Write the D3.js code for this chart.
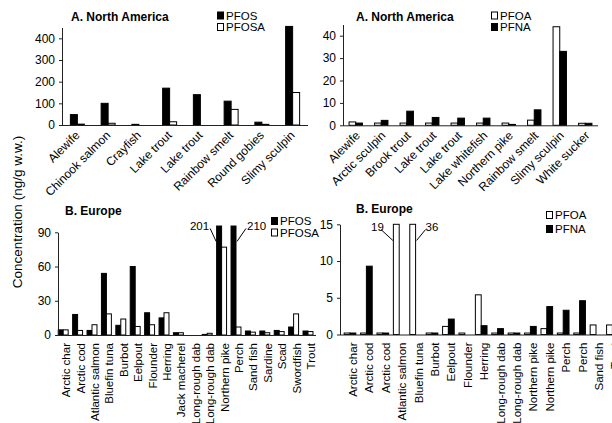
<!DOCTYPE html>
<html>
<head>
<meta charset="utf-8">
<script src="https://cdn.jsdelivr.net/npm/d3@7/dist/d3.min.js"></script>
<style>
  html, body { margin: 0; padding: 0; background: #fff; }
  svg { display: block; font-family: "Liberation Sans", Arial, Helvetica, sans-serif; }
</style>
</head>
<body>
<svg id="chart" width="612" height="423"></svg>
<script>
// ---------- DATA ----------
const naCatsA = ["Alewife","Chinook salmon","Crayfish","Lake trout","Lake trout","Rainbow smelt","Round gobies","Slimy sculpin"];
const naPFOS  = [48, 100, 3, 170, 140, 110, 13, 455];
const naPFOSA = [4, 8, 0, 15, 0, 72, 3, 150];
const naTicksA = [0, 100, 200, 300, 400];

const naCatsB = ["Alewife","Arctic sculpin","Brook trout","Lake trout","Lake trout","Lake whitefish","Northern pike","Rainbow smelt","Slimy sculpin","White sucker"];
const naPFOA = [1.5, 1.0, 1.0, 1.0, 1.0, 1.0, 1.0, 2.3, 44, 0.9];
const naPFNA = [1.0, 2.2, 6.3, 3.5, 3.2, 3.2, 0.4, 6.9, 33, 0.9];
const naTicksB = [0, 10, 20, 30, 40];

const euCatsA = ["Arctic char","Arctic cod","Atlantic salmon","Bluefin tuna","Burbot","Eelpout","Flounder","Herring","Jack macherel","Long-rough dab","Long-rough dab","Northern pike","Perch","Sand fish","Sardine","Scad","Swordfish","Trout"];
const euPFOS  = [4.5, 18, 4, 54, 8.5, 60, 19.5, 15, 2, 0, 0.5, 201, 210, 3.5, 3.5, 4, 7, 3.5];
const euPFOSA = [4.5, 4, 9, 18.5, 14, 7.5, 9, 19.5, 2, 0, 1.5, 77, 7, 2.5, 2, 3, 18.5, 3];
const euTicksA = [0, 30, 60, 90];

const euCatsB = ["Arctic char","Arctic cod","Arctic cod","Atlantic salmon","Bluefin tuna","Burbot","Eelpout","Flounder","Herring","Long-rough dab","Long-rough dab","Northern pike","Northern pike","Perch","Perch","Sand fish","Trout"];
const euPFOA = [0.2, 0.2, 0.2, 19, 36, 0.2, 1.1, 0.2, 5.4, 0.2, 0.2, 0.2, 0.8, 0.2, 0.2, 1.3, 1.3];
const euPFNA = [0.2, 9.3, 0.2, 0, 0, 0.2, 2.1, 0, 1.2, 0.8, 0.2, 1.1, 3.8, 3.3, 4.6, 0, 0];
const euTicksB = [0, 5, 10, 15];

const yTitle = "Concentration (ng/g w.w.)";

// ---------- DRAWING ----------
const svg = d3.select("#chart");

function panel(cfg) {
  const g = svg.append("g");
  const idx = cfg.cats.map((_, i) => i);
  const x = d3.scaleBand().domain(idx).range([cfg.x0, cfg.x1]).padding(0);
  const pairW = x.bandwidth() * cfg.frac;
  const xs = d3.scaleBand().domain(cfg.series.map(s => s.name)).range([0, pairW]);
  const y = d3.scaleLinear().domain(cfg.ydom).range([cfg.yBase, cfg.yTop]);
  const cap = cfg.cap != null ? cfg.cap : Infinity;

  // bars
  cfg.series.forEach(s => {
    g.append("g").selectAll("rect")
      .data(s.values.map((v, i) => ({ v, i })).filter(d => d.v > 0))
      .join("rect")
      .attr("x", d => x(d.i) + (x.bandwidth() - pairW) / 2 + xs(s.name))
      .attr("width", xs.bandwidth())
      .attr("y", d => y(Math.min(d.v, cap)))
      .attr("height", d => y(0) - y(Math.min(d.v, cap)))
      .attr("fill", s.fill)
      .attr("stroke", "#000")
      .attr("stroke-width", 1);
  });

  // y axis
  const ya = d3.axisLeft(y).tickValues(cfg.ticks).tickSize(3).tickPadding(4).tickSizeOuter(0);
  const yg = g.append("g").attr("transform", `translate(${cfg.yAxisX},0)`).call(ya);
  yg.selectAll("text").attr("font-size", 12).attr("fill", "#000").attr("font-family", null);
  yg.selectAll("line,path").attr("stroke", "#222");

  // x axis line
  g.append("line")
    .attr("x1", cfg.yAxisX).attr("x2", cfg.xAxisEnd)
    .attr("y1", y(0) + 0.5).attr("y2", y(0) + 0.5)
    .attr("stroke", "#222").attr("stroke-width", 1);

  // category labels
  const labs = g.append("g").selectAll("text").data(cfg.cats).join("text")
    .attr("text-anchor", "end")
    .attr("font-size", cfg.labelSize)
    .attr("fill", "#000")
    .text(d => d);
  if (cfg.rot === -45) {
    labs.attr("transform", (d, i) => `translate(${x(i) + x.bandwidth() / 2 + cfg.labDx},${y(0) + cfg.labDy}) rotate(-45)`)
      .attr("dy", "0.35em");
  } else {
    labs.attr("transform", (d, i) => `translate(${x(i) + x.bandwidth() / 2 + cfg.labDx},${y(0) + cfg.labDy}) rotate(-90)`)
      .attr("dy", "0.35em");
  }

  // title
  g.append("text").attr("x", cfg.titleX).attr("y", cfg.titleY)
    .attr("font-size", 12).attr("font-weight", "bold").attr("fill", "#000")
    .text(cfg.title);

  // legend
  cfg.legendOrder.forEach((s, k) => {
    const ly = cfg.legY + k * cfg.legStep;
    g.append("rect").attr("x", cfg.legX + 0.5).attr("y", ly - 7.5)
      .attr("width", 6).attr("height", 7)
      .attr("fill", s.fill).attr("stroke", "#000").attr("stroke-width", 1);
    g.append("text").attr("x", cfg.legX + 9).attr("y", ly)
      .attr("font-size", 11.5).attr("fill", "#000").text(s.name);
  });

  // annotations for clipped bars
  (cfg.notes || []).forEach(n => {
    const s = cfg.series[n.series];
    const bx = x(n.i) + (x.bandwidth() - pairW) / 2 + xs(s.name);
    const edge = n.side === "left" ? bx - 0.5 : bx + xs.bandwidth() + 1;
    const ey = y(n.atValue);
    const sx = edge + (n.side === "left" ? -n.dx : n.dx);
    const sy = ey - n.dy;
    g.append("line").attr("x1", sx).attr("y1", sy).attr("x2", edge).attr("y2", ey)
      .attr("stroke", "#000").attr("stroke-width", 1);
    g.append("text")
      .attr("x", n.side === "left" ? sx + n.tx : sx - n.tx)
      .attr("y", sy + 2)
      .attr("text-anchor", n.side === "left" ? "end" : "start")
      .attr("font-size", 11.5).attr("fill", "#000")
      .text(s.values[n.i]);
  });
}

// Top-left
const sPFOS_A = { name: "PFOS", values: naPFOS, fill: "#000" };
const sPFOSA_A = { name: "PFOSA", values: naPFOSA, fill: "#fff" };
panel({
  cats: naCatsA, series: [sPFOS_A, sPFOSA_A], legendOrder: [sPFOS_A, sPFOSA_A],
  x0: 62, x1: 308, frac: 0.455, ydom: [0, 450], yBase: 125, yTop: 27.5,
  ticks: naTicksA, yAxisX: 62, xAxisEnd: 308, rot: -45, labelSize: 12, labDx: 0, labDy: 8,
  title: "A. North America", titleX: 71, titleY: 21, legX: 217, legY: 19.5, legStep: 11.5
});

// Top-right
const sPFOA_B = { name: "PFOA", values: naPFOA, fill: "#fff" };
const sPFNA_B = { name: "PFNA", values: naPFNA, fill: "#000" };
panel({
  cats: naCatsB, series: [sPFOA_B, sPFNA_B], legendOrder: [sPFOA_B, sPFNA_B],
  x0: 343, x1: 598, frac: 0.525, ydom: [0, 45], yBase: 125.3, yTop: 125.3 - 45 * 2.24,
  ticks: naTicksB, yAxisX: 343, xAxisEnd: 598, rot: -45, labelSize: 12, labDx: 2, labDy: 8,
  title: "A. North America", titleX: 356, titleY: 21, legX: 491, legY: 19.5, legStep: 11.5
});

// Bottom-left
const sPFOS_C = { name: "PFOS", values: euPFOS, fill: "#000" };
const sPFOSA_C = { name: "PFOSA", values: euPFOSA, fill: "#fff" };
panel({
  cats: euCatsA, series: [sPFOS_C, sPFOSA_C], legendOrder: [sPFOS_C, sPFOSA_C],
  x0: 56, x1: 56 + 18 * 14.4, frac: 0.69, ydom: [0, 90], yBase: 335, yTop: 232.3, cap: 95.5,
  ticks: euTicksA, yAxisX: 58, xAxisEnd: 316, rot: -90, labelSize: 11.5, labDx: 3, labDy: 8,
  title: "B. Europe", titleX: 65, titleY: 215, legX: 271, legY: 225, legStep: 11.5,
  notes: [
    { series: 0, i: 11, side: "left", atValue: 82, dx: 6, dy: 13, tx: -1 },
    { series: 0, i: 12, side: "right", atValue: 82, dx: 9, dy: 13, tx: -1 }
  ]
});

// Bottom-right
const sPFOA_D = { name: "PFOA", values: euPFOA, fill: "#fff" };
const sPFNA_D = { name: "PFNA", values: euPFNA, fill: "#000" };
panel({
  cats: euCatsB, series: [sPFOA_D, sPFNA_D], legendOrder: [sPFOA_D, sPFNA_D],
  x0: 341.8, x1: 341.8 + 17 * 16.4, frac: 0.71, ydom: [0, 15], yBase: 334.5, yTop: 224.3, cap: 15,
  ticks: euTicksB, yAxisX: 340, xAxisEnd: 620, rot: -90, labelSize: 11.5, labDx: 3, labDy: 8,
  title: "B. Europe", titleX: 356, titleY: 213, legX: 546, legY: 219, legStep: 14,
  notes: [
    { series: 0, i: 3, side: "left", atValue: 12.8, dx: 12, dy: 11, tx: 3 },
    { series: 0, i: 4, side: "right", atValue: 12.8, dx: 9, dy: 11, tx: 0 }
  ]
});

// shared y title
svg.append("text")
  .attr("transform", "translate(17.5,212) rotate(-90)")
  .attr("text-anchor", "middle").attr("dy", "0.35em")
  .attr("font-size", 13.5).attr("fill", "#000")
  .text(yTitle);
</script>
</body>
</html>
